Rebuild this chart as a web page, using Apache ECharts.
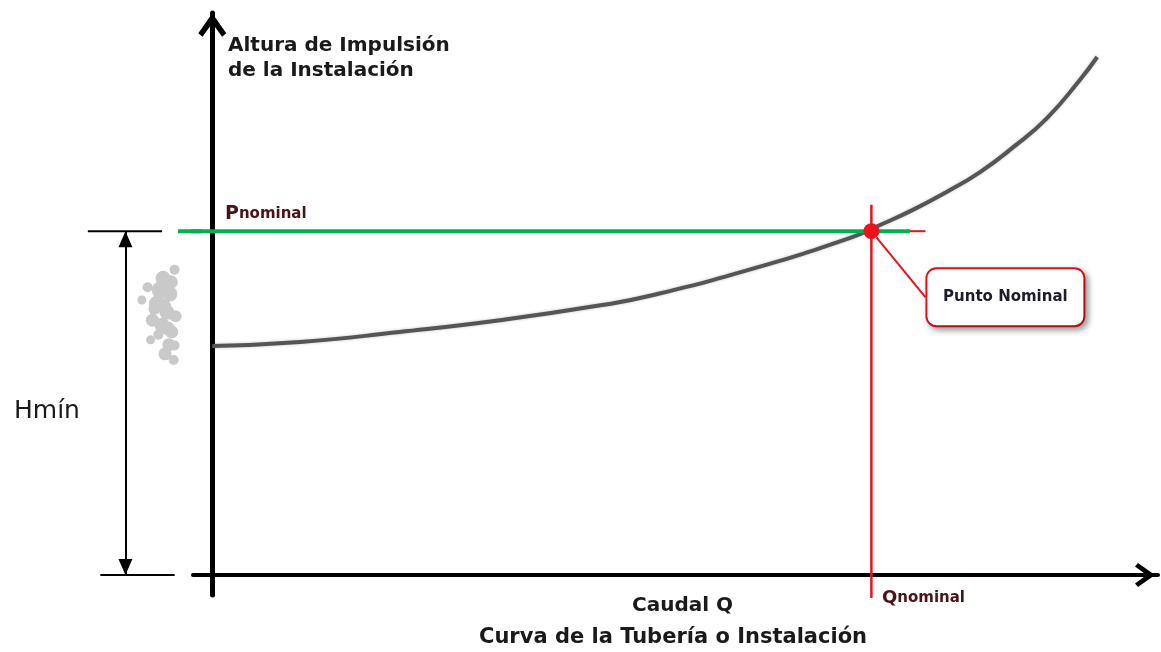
<!DOCTYPE html>
<html>
<head>
<meta charset="utf-8">
<script src="https://cdn.jsdelivr.net/npm/echarts@6/dist/echarts.min.js"></script>
<style>
  html, body { margin: 0; padding: 0; background: #fff; }
  #chart { width: 1161px; height: 652px; }
</style>
</head>
<body>
<div id="chart"></div>
<script>
// curva de la instalación (Q, H)
const caudal = [0, 9.1, 19.4, 29.8, 40.4, 45.7, 56.2, 66.1, 69.2, 72.6, 76.1, 79.6, 83.0, 86.5, 89.9, 91.7]
const altura = [40.9, 41.6, 43.4, 45.5, 48.2, 50.0, 54.8, 60.2, 62.5, 65.2, 68.4, 72.0, 76.4, 81.6, 88.4, 92.5]

// punto nominal
const qNominal = 68.3
const pNominal = 61.4

// extremos de las rectas de referencia
const lineaP = [-3.55, 72.3]     // verde, horizontal
const extensionP = [72.3, 73.9]  // tramo rojo
const lineaQ = [66.1, -4.1]      // roja, vertical

// cota Hmín
const hminX = -9.0
const hminTop = [-12.9, -5.2]
const hminBottom = [-11.6, -3.9]

// manchas grises (decoración)
const manchaX = [-5.1, -5.4, -6.7, -4.4, -5.7, -7.3, -4.7, -6.2, -5.2, -4.2, -5.6, -4.5, -4.9, -4.0, -3.9, -6.0, -4.3, -5.0, -3.8, -4.6, -6.4, -3.9]
const manchaY = [53.0, 50.9, 51.4, 50.2, 48.4, 49.1, 46.9, 45.5, 44.6, 43.4, 42.9, 41.1, 39.5, 38.4, 54.5, 47.5, 52.3, 48.0, 46.2, 44.0, 42.0, 41.0]
const manchaR = [15, 17, 10, 15, 17, 9, 15, 13, 15, 13, 10, 13, 13, 10, 10, 12, 14, 14, 12, 14, 9, 10]

const rojo = '#e8141c'
const granate = '#4a1414'
const fuente = 'DejaVu Sans'

const chart = echarts.init(document.getElementById('chart'))

const flecha = 'path://M6,0 L12,8.5 L10.2,10 L6,4.2 L1.8,10 L0,8.5 Z'
const oculto = { show: false }

const option = {
  animation: false,
  title: [
    {
      text: 'Altura de Impulsión\nde la Instalación',
      left: 228, top: 33, padding: 0,
      textStyle: { fontFamily: fuente, fontSize: 20, fontWeight: 'bold', color: '#1a1a1a', lineHeight: 25 }
    },
    {
      text: '{p|P}{n|nominal}',
      left: 225, top: 203, padding: 0,
      textStyle: {
        rich: {
          p: { fontFamily: fuente, fontSize: 19, fontWeight: 'bold', color: granate, lineHeight: 22 },
          n: { fontFamily: fuente, fontSize: 15, fontWeight: 'bold', color: granate, lineHeight: 22 }
        }
      }
    },
    {
      text: '{p|Q}{n|nominal}',
      left: 882, top: 587, padding: 0,
      textStyle: {
        rich: {
          p: { fontFamily: fuente, fontSize: 18, fontWeight: 'bold', color: granate, lineHeight: 22 },
          n: { fontFamily: fuente, fontSize: 15, fontWeight: 'bold', color: granate, lineHeight: 22 }
        }
      }
    },
    {
      text: 'Hmín',
      left: 14, top: 396, padding: 0,
      textStyle: { fontFamily: fuente, fontSize: 25, fontWeight: 'normal', color: '#1a1a1a', lineHeight: 30 }
    },
    {
      text: 'Caudal Q',
      left: 632, top: 594, padding: 0,
      textStyle: { fontFamily: fuente, fontSize: 20, fontWeight: 'bold', color: '#1a1a1a', lineHeight: 24 }
    },
    {
      text: 'Curva de la Tubería o Instalación',
      left: 479, top: 626, padding: 0,
      textStyle: { fontFamily: fuente, fontSize: 21, fontWeight: 'bold', color: '#1a1a1a', lineHeight: 24 }
    }
  ],
  grid: [
    { left: 193, right: 3, top: 13, bottom: 57 },
    { left: 80, right: 961, top: 13, bottom: 57 }
  ],
  xAxis: [
    {
      type: 'value', min: -2, max: 98, gridIndex: 0,
      axisLine: {
        onZero: true,
        lineStyle: { color: '#000', width: 4 },
        symbol: ['none', flecha], symbolSize: [24, 26], symbolOffset: [0, -13]
      },
      axisTick: oculto, axisLabel: oculto, splitLine: oculto
    },
    {
      type: 'value', min: -13.71, max: -1.27, gridIndex: 1,
      axisLine: oculto, axisTick: oculto, axisLabel: oculto, splitLine: oculto
    }
  ],
  yAxis: [
    {
      type: 'value', min: -3.57, max: 100.36, gridIndex: 0,
      axisLine: {
        onZero: true,
        lineStyle: { color: '#000', width: 5 },
        symbol: ['none', flecha], symbolSize: [28, 24], symbolOffset: [0, -12]
      },
      axisTick: oculto, axisLabel: oculto, splitLine: oculto
    },
    {
      type: 'value', min: -3.57, max: 100.36, gridIndex: 1,
      axisLine: oculto, axisTick: oculto, axisLabel: oculto, splitLine: oculto
    }
  ],
  series: [
    {
      name: 'mancha',
      type: 'scatter',
      xAxisIndex: 1, yAxisIndex: 1,
      data: manchaX.map((x, i) => [x, manchaY[i], manchaR[i]]),
      symbolSize: v => v[2],
      itemStyle: { color: '#c9c9c9', opacity: 1 },
      silent: true, z: 1
    },
    {
      name: 'Curva de la Tubería',
      type: 'line',
      data: caudal.map((q, i) => [q, altura[i]]),
      smooth: 0.5,
      symbol: 'none',
      lineStyle: { color: '#555', width: 4, shadowColor: 'rgba(0,0,0,0.25)', shadowBlur: 3 },
      clip: false, z: 2
    },
    {
      name: 'Pnominal',
      type: 'line',
      data: lineaP.map(x => [x, pNominal]),
      symbol: 'none',
      lineStyle: { color: '#00b04c', width: 4 },
      clip: false, z: 3
    },
    {
      name: 'Pnominal izq',
      type: 'line',
      xAxisIndex: 1, yAxisIndex: 1,
      data: lineaP.map(x => [x, pNominal]),
      symbol: 'none',
      lineStyle: { color: '#00b04c', width: 4 },
      z: 3
    },
    {
      name: 'extension',
      type: 'line',
      data: extensionP.map(x => [x, pNominal]),
      symbol: 'none',
      lineStyle: { color: rojo, width: 2 },
      clip: false, z: 3
    },
    {
      name: 'Qnominal',
      type: 'line',
      data: lineaQ.map(y => [qNominal, y]),
      symbol: 'none',
      lineStyle: { color: rojo, width: 2.5 },
      clip: false, z: 3
    },
    {
      name: 'Hmín',
      type: 'line',
      xAxisIndex: 1, yAxisIndex: 1,
      data: hminTop.map(x => [x, pNominal]),
      symbol: 'none',
      lineStyle: { color: '#000', width: 2 },
      clip: false, z: 3,
      markLine: {
        silent: true,
        symbol: 'none',
        label: { show: false },
        lineStyle: { color: '#000', width: 2, type: 'solid' },
        data: [
          [{ coord: [hminBottom[0], 0] }, { coord: [hminBottom[1], 0] }],
          [
            { coord: [hminX, pNominal], symbol: 'triangle', symbolSize: [14, 16], symbolOffset: [0, 8] },
            { coord: [hminX, 0], symbol: 'triangle', symbolSize: [14, 16], symbolOffset: [0, 8] }
          ]
        ]
      }
    },
    {
      name: 'Punto Nominal',
      type: 'scatter',
      data: [[qNominal, pNominal]],
      symbolSize: 16,
      itemStyle: { color: rojo, opacity: 1 },
      clip: false, z: 5,
      label: {
        show: true,
        position: 'inside',
        formatter: 'Punto Nominal',
        fontFamily: fuente, fontSize: 15, fontWeight: 'bold', color: '#1c1c2c',
        backgroundColor: '#fff',
        borderColor: rojo, borderWidth: 2, borderRadius: 9,
        width: 156, height: 56, lineHeight: 56, align: 'center',
        shadowColor: 'rgba(0,0,0,0.35)', shadowBlur: 6, shadowOffsetX: 3, shadowOffsetY: 3
      },
      labelLayout: { dx: 134, dy: 66 },
      labelLine: { show: true, lineStyle: { color: rojo, width: 2 } }
    }
  ]
}

chart.setOption(option)
</script>
</body>
</html>
